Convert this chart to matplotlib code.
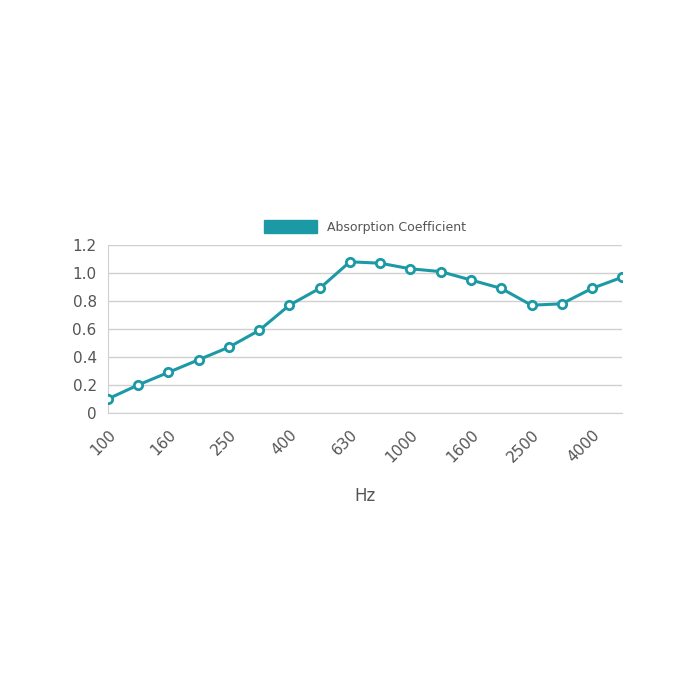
import matplotlib
matplotlib.use("Agg")
import matplotlib.pyplot as plt

freqs = ["100", "125", "160", "200", "250", "315", "400", "500", "630", "800",
         "1000", "1250", "1600", "2000", "2500", "3150", "4000", "5000"]
absorption = [0.10, 0.20, 0.29, 0.38, 0.47, 0.59, 0.77, 0.89, 1.08, 1.07,
              1.03, 1.01, 0.95, 0.89, 0.77, 0.78, 0.89, 0.97]

TEAL = "#1b9aa6"
GRID = "#d0d0d0"
TXT = "#555555"

fig = plt.figure(figsize=(7, 7), dpi=100)
ax = fig.add_axes([0.154, 0.41, 0.735, 0.24])

x = list(range(len(freqs)))
ax.plot(x, absorption, color=TEAL, lw=2.2, marker="o", ms=6,
        mfc="white", mec=TEAL, mew=2, zorder=3)

ax.set_xlim(0, len(freqs) - 1)
ax.set_ylim(0, 1.2)
ax.set_yticks([0, 0.2, 0.4, 0.6, 0.8, 1.0, 1.2])
ax.set_yticklabels(["0", "0.2", "0.4", "0.6", "0.8", "1.0", "1.2"])
ax.set_xticks(x[::2])
ax.set_xticklabels(freqs[::2], rotation=45, ha="right", rotation_mode="anchor")
ax.tick_params(colors=TXT, labelsize=11, length=0, pad=8)
ax.tick_params(axis="x", pad=10)
ax.grid(axis="y", color=GRID, lw=1)
for s in ["top", "right"]:
    ax.spines[s].set_visible(False)
ax.spines["left"].set_color(GRID)
ax.spines["bottom"].set_color(GRID)
ax.set_xlabel("Hz", color=TXT, fontsize=12, labelpad=16)

leg = ax.legend([plt.Rectangle((0, 0), 1, 1, color=TEAL)], ["Absorption Coefficient"],
                loc="lower center", bbox_to_anchor=(0.5, 1.0), frameon=False,
                handlelength=4.2, handleheight=1.2, fontsize=9)
for t in leg.get_texts():
    t.set_color(TXT)

fig.savefig("out.png", dpi=100, facecolor="white")
